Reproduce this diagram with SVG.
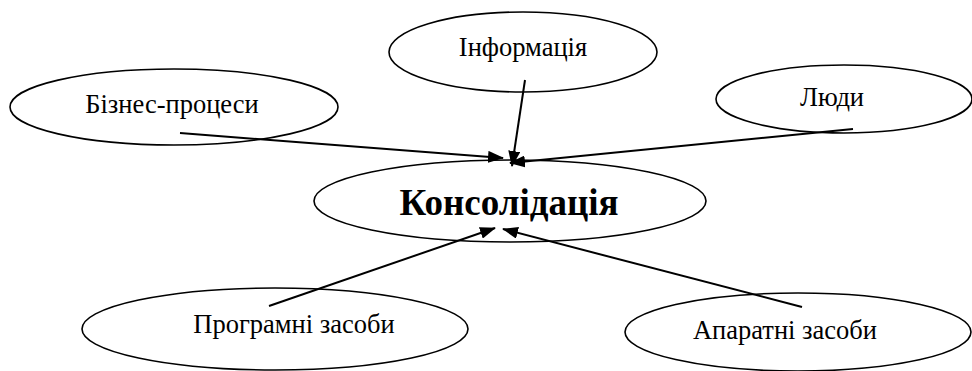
<svg xmlns="http://www.w3.org/2000/svg" width="972" height="371" viewBox="0 0 972 371">
<style>
text{font-family:'Liberation Serif','DejaVu Serif',serif;fill:#000;text-anchor:middle}
.n{fill:#fff;stroke:#000;stroke-width:1.6}
.t{font-size:26.5px}
.b{font-size:37px;font-weight:bold}
.c{stroke:#000;stroke-width:2;fill:none;marker-end:url(#ah)}
</style>
<defs>
<marker id="ah" markerUnits="userSpaceOnUse" markerWidth="16" markerHeight="12" refX="15" refY="6" orient="auto">
<path d="M0,0 L16,6 L0,12 Z" fill="#000"/>
</marker>
</defs>
<rect width="972" height="371" fill="#fff"/>
<g id="node-biznes"><ellipse class="n" cx="174" cy="107" rx="164" ry="38"/><text class="t" x="172" y="113">Бізнес-процеси</text></g>
<g id="node-informatsiia"><ellipse class="n" cx="523" cy="52" rx="134" ry="40"/><text class="t" x="523" y="56">Інформація</text></g>
<g id="node-liudy"><ellipse class="n" cx="844" cy="99" rx="128" ry="34"/><text class="t" x="832" y="106">Люди</text></g>
<g id="node-konsolidatsiia"><ellipse class="n" cx="510" cy="201" rx="196" ry="41"/><text class="b" x="509" y="215">Консолідація</text></g>
<g id="node-prohramni"><ellipse class="n" cx="275" cy="329" rx="193" ry="41"/><text class="t" x="294" y="333">Програмні засоби</text></g>
<g id="node-aparatni"><ellipse class="n" cx="798" cy="332" rx="173" ry="39"/><text class="t" x="785" y="339">Апаратні засоби</text></g>
<g id="connectors">
<line class="c" x1="180" y1="133" x2="503" y2="158"/>
<line class="c" x1="525" y1="80" x2="512" y2="166"/>
<line class="c" x1="853" y1="129" x2="510" y2="163"/>
<line class="c" x1="269" y1="306" x2="495" y2="228"/>
<line class="c" x1="802" y1="307" x2="503" y2="229"/>
</g>
</svg>
